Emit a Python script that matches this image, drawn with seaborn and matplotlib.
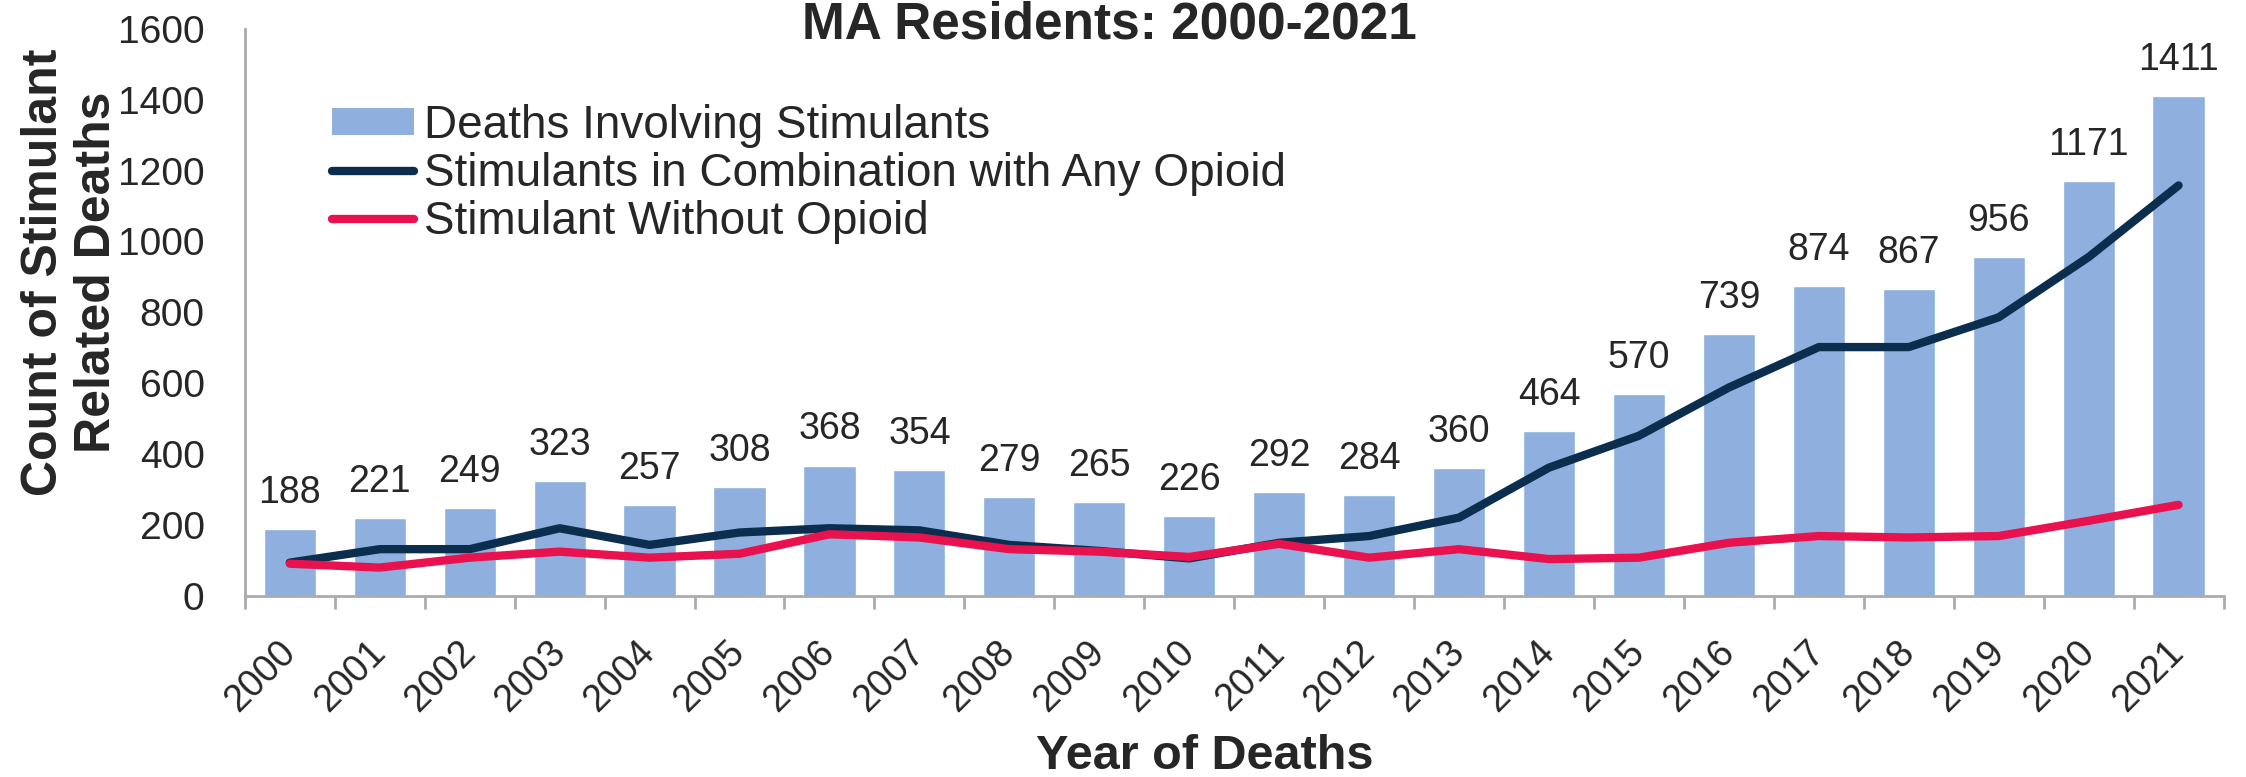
import numpy as np
import pandas as pd
import seaborn as sns
import matplotlib.pyplot as plt
from matplotlib.patches import Patch
from matplotlib.lines import Line2D

sns.set_theme(style="white")
plt.rcParams["font.family"] = ["Liberation Sans", "DejaVu Sans"]

years = [str(y) for y in range(2000, 2022)]
total_deaths = [188, 221, 249, 323, 257, 308, 368, 354, 279, 265, 226,
                292, 284, 360, 464, 570, 739, 874, 867, 956, 1171, 1411]
with_opioid = [94, 132, 132, 191, 144, 179, 191, 185, 144, 127, 106,
               150, 169, 221, 362, 452, 588, 702, 702, 786, 956, 1158]
without_opioid = [91, 80, 108, 125, 108, 119, 174, 165, 132, 125, 110,
                  147, 108, 132, 104, 108, 150, 169, 165, 169, 212, 257]

BAR_COLOR = "#8FB0DE"
NAVY = "#0B2D4E"
RED = "#E8124F"
AXIS_GREY = "#ABABAB"
LW = 6

df = pd.DataFrame({
    "year": years,
    "pos": np.arange(len(years)),
    "total": total_deaths,
    "with_opioid": with_opioid,
    "without_opioid": without_opioid,
})

fig, ax = plt.subplots(figsize=(22.46, 7.77), dpi=100)
fig.subplots_adjust(left=0.109, right=0.990, top=0.963, bottom=0.233)

sns.barplot(data=df, x="year", y="total", color=BAR_COLOR, width=0.58,
            saturation=1, ax=ax)
line_kw = dict(linewidth=LW, solid_capstyle="round", solid_joinstyle="round")
sns.lineplot(data=df, x="pos", y="with_opioid", color=NAVY, ax=ax, **line_kw)
sns.lineplot(data=df, x="pos", y="without_opioid", color=RED, ax=ax, **line_kw)

ax.bar_label(ax.containers[0], fontsize=27, padding=13)

ax.set_xlim(-0.5, len(years) - 0.5)
ax.set_ylim(0, 1600)
ax.set_yticks(range(0, 1601, 200))
ax.set_xticks(df["pos"])
ax.set_xticklabels(years, rotation=45, ha="right", va="center",
                   rotation_mode="anchor")
ax.set_xticks(np.arange(-0.5, len(years), 1), minor=True)
ax.tick_params(axis="x", which="major", length=0, pad=37, labelsize=27)
ax.tick_params(axis="x", which="minor", length=9, width=2, color=AXIS_GREY,
               bottom=True)
ax.tick_params(axis="y", length=0, pad=29, labelsize=28)

for side in ["top", "right"]:
    ax.spines[side].set_visible(False)
for side in ["left", "bottom"]:
    ax.spines[side].set_color(AXIS_GREY)
    ax.spines[side].set_linewidth(2)

ax.set_xlabel("Year of Deaths", fontsize=35, fontweight="bold")
ax.xaxis.label.set_va("baseline")
ax.xaxis.set_label_coords(0.485, -0.305)
ax.set_ylabel("Count of Stimulant\nRelated Deaths", fontsize=36,
              fontweight="bold")
ax.yaxis.set_label_coords(-0.063, 0.57)

handles = [
    Patch(facecolor=BAR_COLOR, edgecolor="none"),
    Line2D([], [], color=NAVY, **line_kw),
    Line2D([], [], color=RED, **line_kw),
]
labels = ["Deaths Involving Stimulants",
          "Stimulants in Combination with Any Opioid",
          "Stimulant Without Opioid"]
ax.legend(handles, labels, loc="upper left", bbox_to_anchor=(0.044, 0.868),
          frameon=False, fontsize=33, handlelength=1.8, handleheight=0.52,
          handletextpad=0.2, labelspacing=0.09, borderaxespad=0,
          borderpad=0)

# the first title line sits above the picture in the source; only this one shows
fig.text(0.494, 0.95, "MA Residents: 2000-2021", fontsize=37,
         fontweight="bold", ha="center", va="baseline")

fig.savefig("out.png", dpi=100)
